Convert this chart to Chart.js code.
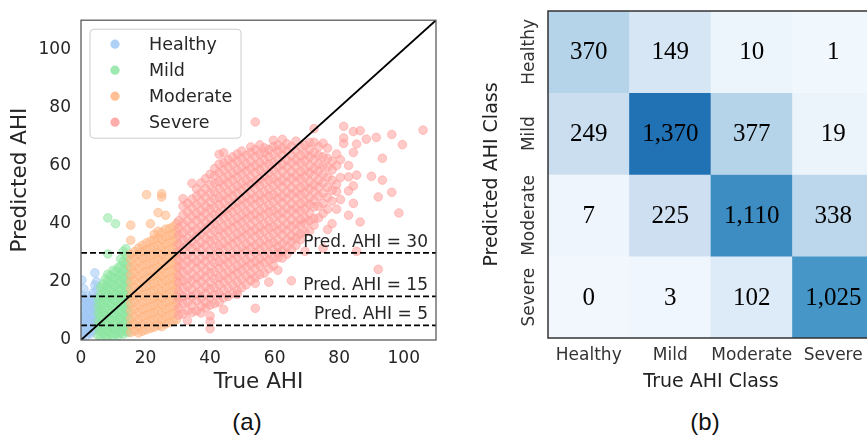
<!DOCTYPE html>
<html>
<head>
<meta charset="utf-8">
<script src="https://cdn.jsdelivr.net/npm/chart.js@4.4.0/dist/chart.umd.min.js"></script>
<style>
  html, body { margin: 0; padding: 0; background: #fff; }
  body { width: 867px; height: 442px; overflow: hidden; position: relative; }
  canvas { position: absolute; top: 0; }
  #scatter { left: 0; }
  #matrix { left: 480px; }
  .tag { position: absolute; top: 408px; font: 24px "Liberation Sans", Arial, sans-serif; color: #111; transform: translateX(-50%); }
</style>
</head>
<body>
<canvas id="scatter" width="470" height="400"></canvas>
<canvas id="matrix" width="420" height="400"></canvas>
<div class="tag" style="left:247px">(a)</div>
<div class="tag" style="left:705px">(b)</div>
<script>
"use strict";

const classNames = ['Healthy', 'Mild', 'Moderate', 'Severe'];

// scatter points, one column of true AHI at a time: [x, [y, y, ...]]
const healthyColumns = [
  [0.3, [1.2, 3.4, 5.9, 8.1, 10.6, 13.2, 15.4, 20.6]],
  [0.9, [2.1, 4.6, 7.2, 9.4, 12.1, 14.3, 17.6]],
  [1.6, [1.4, 3.8, 6.1, 8.7, 11.2, 13.6]],
  [2.3, [2.6, 5.1, 7.4, 10.2, 12.4, 15.1]],
  [3.0, [2.2, 4.3, 6.8, 9.1, 11.7, 14.2]],
  [3.7, [3.1, 5.6, 8.2, 10.7, 13.1, 16.2]],
  [4.3, [3.7, 6.2, 8.6, 11.3, 13.8, 18.9, 23.1]],
  [4.8, [4.6, 7.1, 9.7, 12.2, 14.6, 17.2, 20.1]],
];

const mildColumns = [
  [5.3, [1.6, 4.1, 6.4, 9.2, 11.6, 14.1]],
  [6.0, [1.1, 3.2, 5.7, 8.1, 10.4, 13.0, 15.6, 18.2]],
  [6.8, [2.2, 4.6, 7.1, 9.6, 12.2, 14.4, 17.1, 19.3]],
  [7.6, [1.4, 3.6, 6.1, 8.4, 11.1, 13.5, 16.2, 18.4, 21.0]],
  [8.3, [1.0, 3.1, 5.4, 8.0, 10.6, 13.1, 15.5, 18.1, 20.4, 22.6, 29.6, 42.0]],
  [9.1, [2.1, 4.4, 7.0, 9.5, 12.1, 14.6, 17.2, 19.6, 22.1]],
  [9.9, [1.5, 3.9, 6.5, 9.0, 11.4, 14.0, 16.4, 19.1, 21.5, 24.0]],
  [10.7, [2.0, 3.6, 6.1, 8.5, 11.0, 13.6, 16.0, 18.6, 21.1, 23.5, 40.0]],
  [11.5, [1.5, 4.5, 7.1, 9.4, 12.0, 14.5, 17.1, 19.4, 22.0, 24.9]],
  [12.3, [2.4, 5.0, 7.5, 10.1, 12.5, 15.1, 17.4, 20.0, 22.6, 25.4, 27.9]],
  [13.1, [2.0, 4.1, 6.6, 9.0, 11.5, 14.1, 16.5, 19.1, 21.4, 24.1, 27.0, 30.5]],
  [13.9, [3.0, 5.5, 8.1, 10.4, 13.0, 15.5, 18.1, 20.4, 23.1, 26.0, 28.9, 31.4]],
  [14.6, [2.6, 5.0, 7.6, 10.1, 12.6, 15.0, 17.6, 20.1, 22.5, 25.5, 28.4]],
];

const moderateColumns = [
  [15.4, [2.6, 5.1, 7.4, 10.1, 12.6, 15.0, 17.6, 20.1, 22.4, 25.1, 27.6, 29.6, 34.3, 39.5]],
  [16.6, [3.1, 5.5, 8.0, 10.6, 13.1, 15.5, 18.0, 20.6, 23.1, 25.4, 28.1, 30.4]],
  [17.8, [2.4, 4.6, 7.1, 9.5, 12.0, 14.6, 17.1, 19.5, 22.0, 24.6, 27.0, 29.5, 31.6]],
  [19.0, [3.0, 5.6, 8.1, 10.5, 13.0, 15.6, 18.1, 20.5, 23.0, 25.6, 28.1, 30.5, 32.6]],
  [20.3, [3.5, 6.0, 8.6, 11.0, 13.5, 16.1, 18.5, 21.0, 23.6, 26.0, 28.5, 31.1, 33.4, 50.0]],
  [21.5, [4.0, 6.6, 9.0, 11.5, 14.1, 16.5, 19.0, 21.6, 24.0, 26.5, 29.1, 31.5, 34.0, 40.0]],
  [22.7, [4.4, 7.0, 9.6, 12.0, 14.5, 17.1, 19.5, 22.0, 24.6, 27.0, 29.5, 32.1, 34.5, 36.4]],
  [23.9, [5.0, 7.5, 10.0, 12.6, 15.0, 17.5, 20.1, 22.5, 25.0, 27.6, 30.0, 32.5, 35.1, 37.4, 43.8]],
  [25.0, [4.6, 7.0, 9.5, 12.1, 14.5, 17.0, 19.6, 22.0, 24.5, 27.1, 29.5, 32.0, 34.6, 37.0, 49.2, 50.3]],
  [26.2, [5.5, 8.1, 10.5, 13.0, 15.6, 18.0, 20.5, 23.1, 25.5, 28.0, 30.6, 33.0, 35.5, 38.1, 42.9]],
  [27.4, [6.0, 8.5, 11.1, 13.5, 16.0, 18.6, 21.0, 23.5, 26.1, 28.5, 31.0, 33.6, 36.0, 38.4]],
  [28.6, [6.5, 9.1, 11.5, 14.0, 16.6, 19.0, 21.5, 24.1, 26.5, 29.0, 31.6, 34.0, 36.5, 39.0]],
  [29.6, [7.0, 10.0, 12.6, 15.0, 17.5, 20.1, 22.5, 25.0, 27.6, 30.0, 32.5, 35.1, 37.5, 40.1]],
];

const severeColumns = [
  [30.3, [8.5, 11, 14, 16.5, 19.5, 22, 25, 27.5, 30.5, 33, 36, 38.5, 41]],
  [31.6, [9, 12.5, 15, 18, 20.5, 23.5, 26, 29, 31.5, 34.5, 37, 40, 43, 46, 48.6]],
  [33.0, [6.7, 10, 13, 15.5, 18.5, 21, 24, 27, 29.5, 32.5, 35, 38, 41, 44, 47]],
  [34.4, [9.5, 12, 15, 17.5, 20.5, 23, 26, 28.5, 31.5, 34, 37, 39.5, 42.5, 45.5, 48.5, 53.9]],
  [35.8, [10, 13.5, 16, 19, 21.5, 24.5, 27, 30, 32.5, 35.5, 38, 41, 43.5, 46.5, 49.5, 52]],
  [37.2, [9.3, 11.5, 14.5, 17, 20, 22.5, 25.5, 28, 31, 33.5, 36.5, 39, 42, 44.5, 47.5, 50.5, 54]],
  [38.6, [11, 13, 16, 18.5, 21.5, 24, 27, 29.5, 32.5, 35, 38, 40.5, 43.5, 46, 49, 52, 55.5]],
  [40.0, [3.9, 6.3, 8.3, 12, 14.5, 17.5, 20, 23, 25.5, 28.5, 31, 34, 36.5, 39.5, 42, 45, 47.5, 50.5, 53.5, 57]],
  [41.4, [12.5, 15.5, 18, 21, 23.5, 26.5, 29, 32, 34.5, 37.5, 40, 43, 45.5, 48.5, 51, 54, 56.5, 59]],
  [42.8, [13, 16, 19, 21.5, 24.5, 27, 30, 32.5, 35.5, 38, 41, 43.5, 46.5, 49, 52, 54.5, 57.5, 60.5, 63.9]],
  [44.2, [10.5, 14.5, 17, 20, 22.5, 25.5, 28, 31, 33.5, 36.5, 39, 42, 44.5, 47.5, 50, 53, 55.5, 58.5, 61, 64.4]],
  [45.6, [15, 18, 21, 23.5, 26.5, 29, 32, 34.5, 37.5, 40, 43, 45.5, 48.5, 51, 54, 56.5, 59.5, 62]],
  [47.0, [16, 19, 22, 24.5, 27.5, 30, 33, 35.5, 38.5, 41, 44, 46.5, 49.5, 52, 55, 57.5, 60.5, 63]],
  [48.4, [15.7, 17, 20, 23, 25.5, 28.5, 31, 34, 36.5, 39.5, 42, 45, 47.5, 50.5, 53, 56, 58.5, 61.5, 64]],
  [49.8, [18, 21, 24, 26.5, 29.5, 32, 35, 37.5, 40.5, 43, 46, 48.5, 51.5, 54, 57, 59.5, 62.5, 65]],
  [51.2, [19, 22, 25, 27.5, 30.5, 33, 36, 38.5, 41.5, 44, 47, 49.5, 52.5, 55, 58, 60.5, 63.5]],
  [52.6, [20.5, 23, 26, 28.5, 31.5, 34, 37, 39.5, 42.5, 45, 48, 50.5, 53.5, 56, 59, 61.5, 64.5, 66.4]],
  [54.0, [10.9, 19.5, 21.5, 24.5, 27, 30, 32.5, 35.5, 38, 41, 43.5, 46.5, 49, 52, 54.5, 57.5, 60, 63, 65.5, 75]],
  [55.4, [22.5, 25.5, 28, 31, 33.5, 36.5, 39, 42, 44.5, 47.5, 50, 53, 55.5, 58.5, 61, 64, 67.1]],
  [56.8, [23, 26.5, 29, 32, 34.5, 37.5, 40, 43, 45.5, 48.5, 51, 54, 56.5, 59.5, 62, 64.5, 66.1]],
  [58.2, [19.9, 24.5, 27.5, 30, 33, 35.5, 38.5, 41, 44, 46.5, 49.5, 52, 55, 57.5, 60.5, 63, 65.5]],
  [59.6, [25.5, 28, 31, 33.5, 36.5, 39, 42, 44.5, 47.5, 50, 53, 55.5, 58.5, 61, 64, 66.5, 68.7]],
  [61.0, [24, 28.3, 30, 32, 34.5, 37.5, 40, 43, 45.5, 48.5, 51, 54, 56.5, 59.5, 62, 65, 67]],
  [62.4, [28.2, 30.5, 33, 36, 38.5, 41.5, 44, 47, 49.5, 52.5, 55, 58, 60.5, 63.5, 66, 69]],
  [63.8, [29.5, 32, 34.5, 37.5, 40, 43, 45.5, 48.5, 51, 54, 56.5, 59.5, 62, 65, 67.5]],
  [65.2, [20.4, 31, 33.9, 36, 39, 41.5, 44.5, 47, 50, 52.5, 55.5, 58, 61, 63.5, 66.5]],
  [66.6, [32.5, 35, 37.5, 40, 43, 45.5, 48.5, 51, 54, 56.5, 59.5, 62, 65, 68.4]],
  [68.0, [34.5, 36.5, 39.5, 41.5, 44.5, 47, 50, 52.5, 55.5, 58, 61, 63.5, 66.5]],
  [69.4, [30.5, 37, 40, 42, 45, 47.5, 50.5, 53, 56, 58.5, 61.5, 64, 67]],
  [70.8, [37.5, 41, 43.5, 46.5, 49, 52, 54.5, 57.5, 60, 63, 65.5, 68]],
  [72.2, [39.5, 41.8, 45.8, 48, 51, 53.5, 56.5, 59, 62, 64.5, 68, 72.7]],
  [73.6, [42, 46, 49.5, 52.5, 55, 58, 60.5, 63.5, 66.5]],
  [75.0, [31.6, 43.5, 47, 50.5, 54, 57, 60, 63, 67.7]],
  [76.4, [38, 45, 49, 52.5, 56, 59.5, 62.5, 66]],
  [77.8, [40, 47.8, 51.5, 55, 58.5, 61.5]],
  [79.2, [45, 51.1, 53.5, 60, 64]],
  [80.4, [48.3, 55.9, 62]],
  [81.4, [67.6, 69.5, 73.5]],
  [82.9, [42.9, 51.3, 56.1, 60]],
  [84.4, [47, 53, 64.5, 71.7]],
  [85.4, [30.5, 56.7, 67.4]],
  [86.5, [40.6, 72]],
  [88.4, [69.1]],
  [90.0, [56.3]],
  [91.5, [69.7]],
  [92.1, [24.3, 49.2]],
  [93.4, [55, 62.5]],
  [96.3, [50.8, 70.7]],
  [98.5, [43.7]],
  [99.6, [67.2]],
  [106.0, [72.2]],
];

const predLines = [30, 15, 5];

// confusion matrix, one row per predicted class, columns are the true class
const predHealthy = [370, 149, 10, 1];
const predMild = [249, 1370, 377, 19];
const predModerate = [7, 225, 1110, 338];
const predSevere = [0, 3, 102, 1025];

const classRgb = {
  Healthy: '161,201,244',
  Mild: '141,229,161',
  Moderate: '255,180,130',
  Severe: '255,159,155',
};
const textColor = '#262626';
const sans = '"DejaVu Sans", sans-serif';

const toPoints = cols => cols.flatMap(([x, ys]) => ys.map(y => ({ x, y })));

function scatterSet(name, cols) {
  return {
    label: name,
    data: toPoints(cols),
    backgroundColor: `rgba(${classRgb[name]},0.55)`,
    borderColor: `rgba(${classRgb[name]},0.55)`,
    borderWidth: 1,
    pointRadius: 4.3,
    pointHoverRadius: 4.3,
    clip: 0,
  };
}

const referenceLines = {
  id: 'referenceLines',
  afterDatasetsDraw(chart) {
    const { ctx, chartArea: a, scales: { x, y } } = chart;
    ctx.save();
    ctx.beginPath();
    ctx.rect(a.left, a.top, a.width, a.height);
    ctx.clip();
    ctx.strokeStyle = '#000';
    ctx.lineWidth = 1.8;
    ctx.beginPath();
    ctx.moveTo(x.getPixelForValue(x.min), y.getPixelForValue(x.min));
    ctx.lineTo(x.getPixelForValue(x.max), y.getPixelForValue(x.max));
    ctx.stroke();
    ctx.setLineDash([6, 3]);
    predLines.forEach(v => {
      const py = y.getPixelForValue(v);
      ctx.beginPath();
      ctx.moveTo(a.left, py);
      ctx.lineTo(a.right, py);
      ctx.stroke();
    });
    ctx.restore();

    ctx.save();
    ctx.fillStyle = textColor;
    ctx.font = '17px ' + sans;
    ctx.textAlign = 'right';
    ctx.textBaseline = 'alphabetic';
    predLines.forEach(v => {
      ctx.fillText('Pred. AHI = ' + v, a.right - 8, y.getPixelForValue(v) - 6);
    });
    ctx.restore();
  },
  afterDraw(chart) {
    const { ctx, chartArea: a } = chart;
    ctx.save();
    ctx.strokeStyle = '#555';
    ctx.lineWidth = 1.25;
    ctx.strokeRect(a.left, a.top, a.width, a.height);

    // legend box inside the axes
    const left = a.left + 9, top = a.top + 9, w = 151, h = 109;
    ctx.beginPath();
    ctx.roundRect(left, top, w, h, 4);
    ctx.fillStyle = 'rgba(255,255,255,0.8)';
    ctx.fill();
    ctx.strokeStyle = '#cccccc';
    ctx.lineWidth = 1;
    ctx.stroke();
    ctx.font = '17.5px ' + sans;
    ctx.textBaseline = 'middle';
    classNames.forEach((name, i) => {
      const cy = top + 15 + i * 26;
      ctx.beginPath();
      ctx.arc(left + 25, cy, 4.6, 0, Math.PI * 2);
      ctx.fillStyle = `rgba(${classRgb[name]},0.85)`;
      ctx.fill();
      ctx.fillStyle = textColor;
      ctx.fillText(name, left + 59, cy + 1);
    });
    ctx.restore();
  },
};

new Chart(document.getElementById('scatter'), {
  type: 'scatter',
  data: {
    // later classes drawn on top, so they go first
    datasets: [
      scatterSet('Severe', severeColumns),
      scatterSet('Moderate', moderateColumns),
      scatterSet('Mild', mildColumns),
      scatterSet('Healthy', healthyColumns),
    ],
  },
  options: {
    responsive: false,
    animation: false,
    layout: { padding: { top: 13, right: 34, left: 0, bottom: 0 } },
    plugins: { legend: { display: false }, tooltip: { enabled: false } },
    scales: {
      x: {
        type: 'linear', min: 0, max: 110,
        grid: { display: false, drawTicks: false },
        border: { display: false },
        ticks: { stepSize: 20, includeBounds: false, padding: 8, color: textColor, font: { family: sans, size: 17 } },
        title: { display: true, text: 'True AHI', color: textColor, font: { family: sans, size: 21.5 }, padding: { top: 0, bottom: 5 } },
        afterFit: s => { s.height = 60; },
      },
      y: {
        type: 'linear', min: 0, max: 110,
        grid: { display: false, drawTicks: false },
        border: { display: false },
        ticks: { stepSize: 20, includeBounds: false, padding: 10, color: textColor, font: { family: sans, size: 17 } },
        title: { display: true, text: 'Predicted AHI', color: textColor, font: { family: sans, size: 21.5 }, padding: { top: 8, bottom: 0 } },
        afterFit: s => { s.width = 81; },
      },
    },
  },
  plugins: [referenceLines],
});

// heatmap
const predRows = [predHealthy, predMild, predModerate, predSevere];
const maxCount = Math.max(...predRows.flat());
const bluesStops = ['#f7fbff', '#deebf7', '#c6dbef', '#9ecae1', '#6baed6', '#4292c6', '#2171b5', '#08519c', '#08306b'];

function hexRgb(h) {
  return [1, 3, 5].map(i => parseInt(h.slice(i, i + 2), 16));
}

function blues(v) {
  const t = 0.03 + 0.72 * Math.pow(v / maxCount, 0.75);
  const pos = t * (bluesStops.length - 1);
  const i = Math.min(Math.floor(pos), bluesStops.length - 2);
  const f = pos - i;
  const c0 = hexRgb(bluesStops[i]), c1 = hexRgb(bluesStops[i + 1]);
  const c = c0.map((c, k) => Math.round(c + (c1[k] - c) * f));
  return `rgb(${c.join(',')})`;
}

const matrixText = {
  id: 'matrixText',
  afterDatasetsDraw(chart) {
    const { ctx, chartArea: a, scales: { y } } = chart;
    ctx.save();
    ctx.fillStyle = '#000';
    ctx.font = '25px "Liberation Serif", serif';
    ctx.textAlign = 'center';
    ctx.textBaseline = 'middle';
    chart.data.datasets.forEach((ds, i) => {
      chart.getDatasetMeta(i).data.forEach((bar, j) => {
        const p = bar.getCenterPoint();
        ctx.fillText(ds.counts[j].toLocaleString('en-US'), p.x, p.y + 1);
      });
    });
    ctx.strokeStyle = '#333';
    ctx.lineWidth = 1.5;
    ctx.strokeRect(a.left, a.top, a.width, a.height);

    ctx.fillStyle = '#333';
    ctx.font = '17px ' + sans;
    classNames.forEach((name, i) => {
      ctx.save();
      ctx.translate(a.left - 18, y.getPixelForValue(i + 0.5));
      ctx.rotate(-Math.PI / 2);
      ctx.fillText(name, 0, 0);
      ctx.restore();
    });
    ctx.restore();
  },
};

new Chart(document.getElementById('matrix'), {
  type: 'bar',
  data: {
    labels: classNames,
    datasets: predRows.map((row, i) => ({
      label: classNames[i],
      counts: row,
      data: row.map(() => 1),
      backgroundColor: row.map(blues),
      borderWidth: 0,
      barPercentage: 1,
      categoryPercentage: 1,
    })),
  },
  options: {
    responsive: false,
    animation: false,
    layout: { padding: { top: 11, right: 26, left: 0, bottom: 0 } },
    plugins: { legend: { display: false }, tooltip: { enabled: false } },
    scales: {
      x: {
        stacked: true,
        grid: { display: false, drawTicks: false },
        border: { display: false },
        ticks: { autoSkip: false, maxRotation: 0, minRotation: 0, padding: 7, color: '#333', font: { family: sans, size: 17 } },
        title: { display: true, text: 'True AHI Class', color: '#222', font: { family: sans, size: 19 }, padding: { top: 0, bottom: 7 } },
        afterFit: s => { s.height = 62; },
      },
      y: {
        type: 'linear', stacked: true, min: 0, max: 4, reverse: true,
        grid: { display: false, drawTicks: false },
        border: { display: false },
        ticks: { display: false },
        title: { display: true, text: 'Predicted AHI Class', color: '#222', font: { family: sans, size: 19 }, padding: { top: 1, bottom: 0 } },
        afterFit: s => { s.width = 68; },
      },
    },
  },
  plugins: [matrixText],
});
</script>
</body>
</html>
